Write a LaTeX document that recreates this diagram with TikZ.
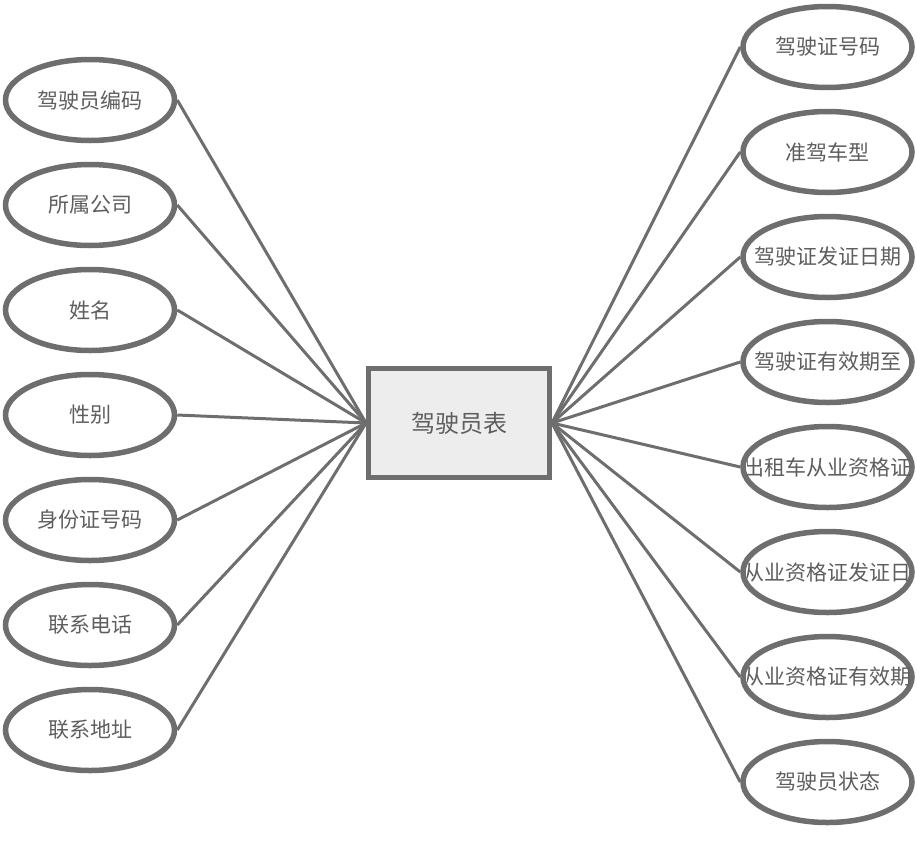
\documentclass[tikz,border=0pt]{standalone}
\usepackage{fontspec}
\newfontfamily\cjk{Noto Sans CJK SC}
\usetikzlibrary{shapes.geometric}
\definecolor{edgegray}{HTML}{6E6E6E}
\definecolor{txtgray}{HTML}{5E5E5E}
\definecolor{boxfill}{HTML}{EDEDED}
\newcommand{\fixw}[1]{\makebox[0pt]{#1}}
\tikzset{
  attr/.style={ellipse, draw=edgegray, line width=5.5pt, fill=white, inner sep=0pt,
    minimum width=169pt, minimum height=81pt, text=txtgray, font=\cjk\fontsize{21}{25}\selectfont},
  attrtxt/.style={inner sep=0pt, text=txtgray, font=\cjk\fontsize{21}{25}\selectfont},
  entity/.style={rectangle, draw=edgegray, line width=5pt, fill=boxfill, inner sep=0pt,
    minimum width=181pt, minimum height=109pt, text=txtgray, font=\cjk\fontsize{24}{28}\selectfont},
  link/.style={draw=edgegray, line width=3pt}
}
\begin{document}
\begin{tikzpicture}[x=1pt,y=-1pt]
\useasboundingbox (0,0) rectangle (917,846);
% central entity
\node[entity] (c) at (459,423) {驾驶员表};
% left attributes
\node[attr] (l1) at (90,100) {\fixw{驾驶员编码}};
\node[attr] (l2) at (90,205) {\fixw{所属公司}};
\node[attr] (l3) at (90,310) {\fixw{姓名}};
\node[attr] (l4) at (90,415) {\fixw{性别}};
\node[attr] (l5) at (90,520) {\fixw{身份证号码}};
\node[attr] (l6) at (90,625) {\fixw{联系电话}};
\node[attr] (l7) at (90,730) {\fixw{联系地址}};
% right attributes
\node[attr] (r1) at (827.5,47) {\fixw{驾驶证号码}};
\node[attr] (r2) at (827.5,152) {\fixw{准驾车型}};
\node[attr] (r3) at (827.5,257) {\fixw{驾驶证发证日期}};
\node[attr] (r4) at (827.5,362) {\fixw{驾驶证有效期至}};
\node[attr] (r5) at (827.5,467) {};
\node[attr] (r6) at (827.5,572) {};
\node[attr] (r7) at (827.5,677) {};
\node[attr] (r8) at (827.5,782) {\fixw{驾驶员状态}};
% clipped overflowing labels
\begin{scope}
\clip (747,447) rectangle (910,487);
\node[attrtxt] (t5) at (r5.center) {出租车从业资格证};
\end{scope}
\begin{scope}
\clip (747,552) rectangle (912,592);
\node[attrtxt] (t6) at (r6.center) {从业资格证发证日};
\end{scope}
\begin{scope}
\clip (747,657) rectangle (910,697);
\node[attrtxt] (t7) at (r7.center) {从业资格证有效期};
\end{scope}
% connectors
\foreach \n in {l1,l2,l3,l4,l5,l6,l7}{
  \draw[link] (\n.east) -- (c.west);
}
\foreach \n in {r1,r2,r3,r4,r5,r6,r7,r8}{
  \draw[link] (c.east) -- (\n.west);
}
\end{tikzpicture}
\end{document}
